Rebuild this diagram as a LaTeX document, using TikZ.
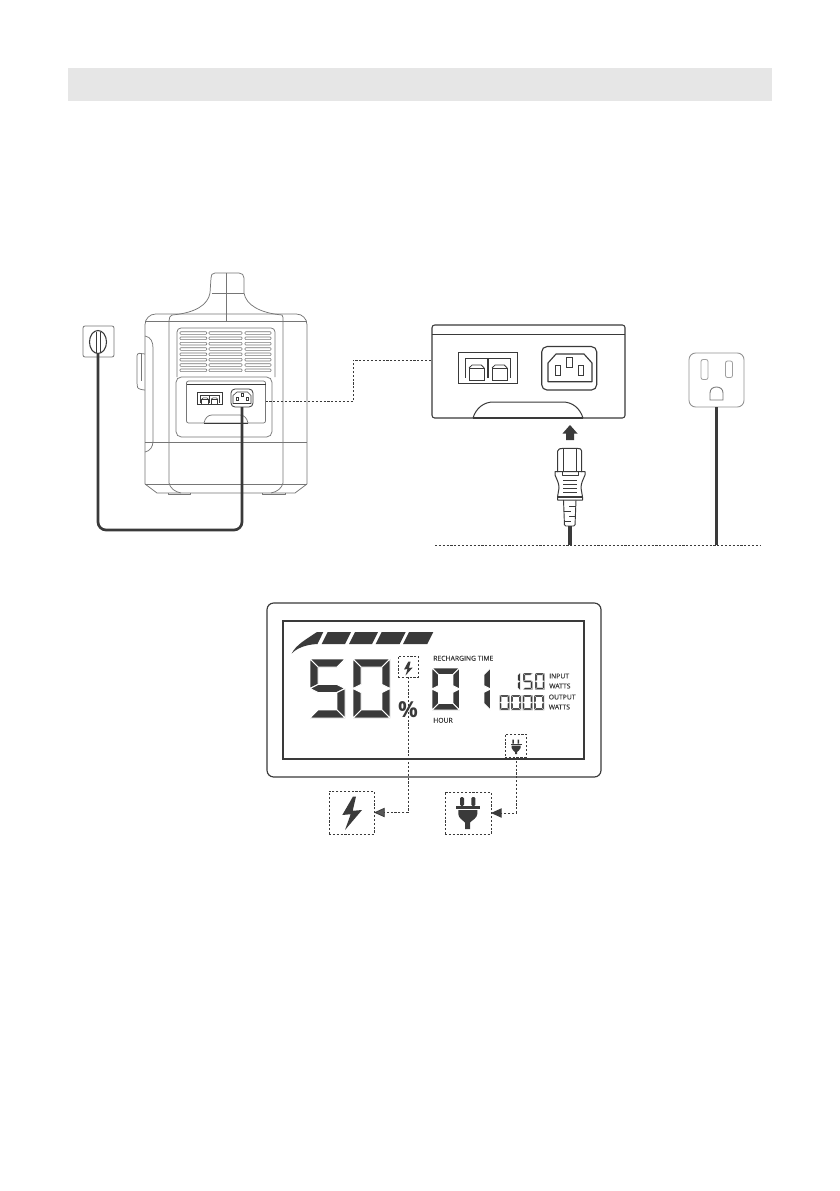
\documentclass[tikz,border=0pt]{standalone}
\usepackage{fontspec}
\setmainfont{Open Sans}
\newfontfamily\lcdfont[FakeBold=0.35]{Open Sans}
\usetikzlibrary{shapes.geometric,arrows.meta,calc}
\definecolor{ink}{HTML}{3A3A3A}
\definecolor{devline}{HTML}{767676}
\definecolor{headbar}{HTML}{E6E6E6}
\tikzset{
  px/.style 2 args={minimum width=#1*.75pt,minimum height=#2*.75pt,inner sep=0pt,outer sep=0pt},
  dev/.style={draw=devline,line width=.55pt,line join=round},
  detail/.style={draw=ink,line width=.75pt,line join=round},
  cable/.style={draw=ink,line width=2pt,rounded corners=6pt},
  dots/.style={draw=ink,line width=.6pt,dash pattern=on 1.6pt off 1.3pt},
  dotsbox/.style={draw=ink,line width=.55pt,dash pattern=on 1.6pt off 1.3pt},
  lcdtext/.style={font=\lcdfont\fontsize{5.1}{5}\selectfont,text=ink,inner sep=0pt,anchor=west},
  seg/.style={fill=ink,draw=white,line width=.7pt,line join=miter},
  thinseg/.style={fill=ink,draw=white,line width=.12pt}
}
% seven segment digit: x,y,W,H,T,list,style
\newcommand{\sevdigit}[7]{%
 \begin{scope}[shift={(#1,#2)}]
 \def\W{#3}\def\H{#4}\def\T{#5}
 \foreach \s in {#6}{%
  \ifnum\s=1 \path[#7] (0,0)--(\W,0)--({\W-\T},\T)--(\T,\T)--cycle;\fi
  \ifnum\s=2 \path[#7] (\W,0)--(\W,{\H/2})--({\W-\T},{\H/2-\T/2})--({\W-\T},\T)--cycle;\fi
  \ifnum\s=3 \path[#7] (\W,{\H/2})--(\W,\H)--({\W-\T},{\H-\T})--({\W-\T},{\H/2+\T/2})--cycle;\fi
  \ifnum\s=4 \path[#7] (0,\H)--(\W,\H)--({\W-\T},{\H-\T})--(\T,{\H-\T})--cycle;\fi
  \ifnum\s=5 \path[#7] (0,{\H/2})--(0,\H)--(\T,{\H-\T})--(\T,{\H/2+\T/2})--cycle;\fi
  \ifnum\s=6 \path[#7] (0,0)--(0,{\H/2})--(\T,{\H/2-\T/2})--(\T,\T)--cycle;\fi
  \ifnum\s=7 \path[#7] (0,{\H/2})--(\T,{\H/2-\T/2})--({\W-\T},{\H/2-\T/2})--(\W,{\H/2})--({\W-\T},{\H/2+\T/2})--(\T,{\H/2+\T/2})--cycle;\fi
 }
 \end{scope}}
% port icon: x,y,size,colour,line width
\newcommand{\dualicon}[5]{%
 \begin{scope}[shift={(#1,#2)},x=#3*.75pt,y=-#3*.75pt]
  \draw[#4,line width=#5] (0,.88)--(0,0)--(1,0)--(1,.88);
  \draw[#4,line width=#5] (.18,.44) rectangle (.85,1);
  \draw[#4,line width=#5] (.18,.44)--(.32,.31)--(.72,.31)--(.85,.44);
 \end{scope}}
\begin{document}
\begin{tikzpicture}[x=.75pt,y=-.75pt]
\useasboundingbox (0,0) rectangle (839,1191);
\fill[white] (0,0) rectangle (839,1191);
\fill[headbar] (68,68) rectangle (772,101);

%% ---- device, rear view
\draw[dev] (172,315) .. controls (195,313) and (208,305) .. (210,293) -- (211,278)
  .. controls (211,275) and (212,273) .. (215,273) -- (239,273)
  .. controls (242,273) and (244,275) .. (244,278) -- (244,293)
  .. controls (246,305) and (260,313) .. (282,315);
\draw[dev] (226,273)--(226,321);
\draw[dev] (211.5,293)--(243.5,293);
\draw[dev,rounded corners=8pt] (145,484)--(145,314)--(307,314)--(307,484);
\draw[dev] (145,484)--(157,493)--(295,493)--(307,484);
\draw[dev] (145,321)--(307,321);
\draw[dev] (145,442)--(307,442);
\draw[dev] (145,484)--(307,484);
\draw[dev] (172,315) .. controls (170,315.5) and (169,318) .. (169,321) -- (169,483)
  .. controls (170,488) and (175,492) .. (181,493);
\draw[dev] (282,315) .. controls (283,315.5) and (283,318) .. (283,321) -- (283,483)
  .. controls (282,488) and (277,492) .. (271,493);
\draw[dev] (168,493)--(168,494.5)--(190,494.5)--(190,493);
\draw[dev] (262,493)--(262,494.5)--(285,494.5)--(285,493);
\draw[dev] (145,336) .. controls (151,337) and (153,342) .. (153,348) -- (153,441)
  .. controls (153,447) and (150,451) .. (145,452);
\draw[dev,rounded corners=2pt] (145,354)--(137,353)--(137,385) .. controls (138,389) and (143,390) .. (145,390);
\draw[dev] (141,353)--(141,381);
% vents
\draw[dev,rounded corners=3pt] (177,377)--(177,328)--(275,328)--(275,377);
\foreach \yy in {331.7,337,342.4,347.7,353,358.4,363.7,369}{
  \foreach \xa/\xb in {180/206.7,209/242,245/271}{
    \draw[devline,line width=.45pt,rounded corners=.6pt] (\xa,\yy) rectangle (\xb,\yy+2.6);
  }
}
% port area
\node[px={96}{60},dev,rounded corners=4pt] (portouter) at (224,407) {};
\node[px={79}{42},dev,rounded corners=1.5pt] (portinner) at (226,402) {};
\draw[ink,line width=.6pt] (portinner.west |- 0,384) -- (portinner.east |- 0,384);
\draw[dev] (204,423) .. controls (205,418) and (208,415) .. (212,415) -- (240,415)
   .. controls (244,415) and (247,418) .. (248,423);
\draw[ink,line width=.7pt] (204,423)--(248,423);
\node[px={25}{11.5},draw=ink,line width=.65pt] (dualsmall) at (209.5,398.5) {};
\dualicon{200}{395}{9.6}{ink}{.4pt}
\dualicon{209.6}{395}{9.6}{ink}{.4pt}
\node[px={22}{18},draw=ink,line width=.6pt,rounded corners=3pt] (acport) at (242,398) {};
\draw[ink,line width=.45pt,line join=round] (237,392)--(247.5,392)--(251,395.5)--(251,403.5)--(233,403.5)--(233,395.5)--cycle;
\foreach \a/\b in {236.8/398.5,242/395,247.2/398.5}{\draw[ink,line width=.45pt] (\a-1,\b-1.7) rectangle (\a+1,\b+1.7);}

%% ---- wall socket (left)
\node[px={31}{31},draw=devline,line width=.6pt,rounded corners=1.5pt,fill=white] (wallsocket) at (98.5,341.5) {};
\node[px={17}{23},draw=ink,line width=.8pt,ellipse] (wallplug) at (98,342) {};
\draw[ink,line width=.55pt] (96.5,332)--(96.5,353) (100,332)--(100,353);
\coordinate (cablelow) at (170,530);
\draw[cable] (wallplug.south) |- (cablelow) -| (acport.south);

%% ---- dashed link to enlarged panel
\coordinate (bendA) at (353,401.5);
\coordinate (bendB) at (353,360);

%% ---- enlarged panel
\node[px={193}{93},detail,rounded corners=2pt,line width=.8pt] (panel) at (528.5,371.5) {};
\draw[dots] (portinner.east |- bendA) -- (bendA) -- (bendB) -- (panel.west |- bendB);
\draw[ink,line width=.75pt] (panel.west |- 0,334) -- (panel.east |- 0,334);
\draw[detail] (473,418) .. controls (476,408) and (484,402) .. (493,402) -- (563,402)
  .. controls (572,402) and (580,408) .. (583,418);
\draw[draw=ink,line width=1pt] (473,418)--(583,418);
\node[px={59}{31},draw=ink,line width=.7pt] (dualbig) at (487.5,367.5) {};
\dualicon{465}{358}{22.5}{ink}{.6pt}
\dualicon{488}{358}{22.5}{ink}{.6pt}
\node[px={55}{43.5},draw=ink,line width=.85pt,rounded corners=4pt] (acbig) at (569.2,368.3) {};
\draw[ink,line width=.85pt,line join=round] (556,354)--(584,354)--(592,363)--(592,381.7)--(548,381.7)--(548,363)--cycle;
\foreach \a/\b in {558.2/370.8,569.5/362.5,580.8/370.8}{\draw[ink,line width=.85pt] (\a-2.6,\b-5) rectangle (\a+2.6,\b+5);}
% arrow up
\fill[ink] (570,425)--(577.5,433.5)--(574,433.5)--(574,440)--(566,440)--(566,433.5)--(562.5,433.5)--cycle;
% power connector
\draw[detail] (557.7,472)--(557.7,451) .. controls (558,449) and (560,448.3) .. (563,448.3) -- (577,448.3) .. controls (580,448.3) and (581.5,449) .. (581.7,451) -- (581.7,472);
\draw[detail] (563.3,448.3)--(563.3,472) (576.7,448.3)--(576.7,472);
\draw[detail] (555,471.7)--(585,471.7)--(585,475) .. controls (583,480) and (581,483) .. (581,488) -- (582.5,497)--(582.5,500)--(557.5,500)--(557.5,497)--(559,488) .. controls (559,483) and (557,480) .. (555,475)--cycle;
\draw[detail] (562,471.7)--(562,475)--(578,475)--(578,471.7);
\foreach \yy in {480.7,484.3,488.3,492.3}{\draw[ink,line width=.6pt] (563.3,\yy)--(576.7,\yy);}
\draw[ink,line width=.9pt] (558,497)--(582,497);
\node[px={12}{27}] (relief) at (570,512.5) {};
\draw[ink,line width=.7pt,rounded corners=1pt] (563.5,500)--(564.5,526)--(575,526)--(576,500);
\foreach \a/\b/\yy in {569/576/506,564/571/511,569/575.5/516,564.5/571/521}{\draw[ink,line width=.55pt] (\a,\yy)--(\b,\yy);}
\coordinate (floorL) at (435,545);
\coordinate (floorR) at (760,545);
\draw[dots,line width=.55pt] (floorL)--(floorR);
\draw[draw=ink,line width=2.4pt] (relief.south) -- (relief.south |- floorL);

%% ---- outlet
\node[px={55}{54},draw=devline!80,line width=.65pt,rounded corners=5pt] (outlet) at (716.5,380) {};
\draw[devline!70,line width=.6pt,rounded corners=1.5pt] (701,359.5) rectangle (708,379.5);
\draw[devline!70,line width=.6pt,rounded corners=1.5pt] (725.5,361) rectangle (732.5,377.5);
\draw[devline,line width=.65pt] (710,400)--(710,393) .. controls (710,389) and (713,387) .. (716.5,387) .. controls (720,387) and (723,389) .. (723,393)--(723,400)--cycle;
\draw[draw=ink,line width=2.2pt] (outlet.south) -- (outlet.south |- floorL);

%% ---- LCD
\node[px={334}{174},draw=ink,line width=.85pt,rounded corners=5pt] (lcdouter) at (434,690) {};
\node[px={301}{138},draw=ink,line width=.9pt] (lcdinner) at (433.5,690) {};
% battery bar
\fill[ink] (291.7,653.5) .. controls (296,645) and (305,640) .. (317,632) -- (323.3,632) -- (317.5,644) .. controls (306,644.5) and (297,648) .. (291.7,653.5) -- cycle;
\foreach \a/\b in {327.7/351,355/378,381.7/405.7,409/433.3}{\fill[ink] (\a,632)--(\b,632)--(\b-6,644)--(\a-6,644)--cycle;}
% digits
\sevdigit{310}{659}{35}{59}{8}{1,6,7,3,4}{seg}
\sevdigit{353}{659}{37}{59}{8}{1,2,3,4,5,6}{seg}
\sevdigit{432}{668}{27.5}{42}{6.5}{1,2,3,4,5,6}{seg}
\sevdigit{484}{668}{6.5}{42}{6.5}{2,3}{seg}
\sevdigit{517.5}{673}{2.6}{17}{2.2}{2,3}{thinseg}
\sevdigit{523}{673}{9.5}{16.5}{2}{1,6,7,3,4}{thinseg}
\sevdigit{535}{673}{9.5}{16.5}{2}{1,2,3,4,5,6}{thinseg}
\foreach \xx in {499.5,511,522.5,534}{\sevdigit{\xx}{695}{10}{15}{1.9}{1,2,3,4,5,6}{thinseg}}
% texts
\node[font=\bfseries\fontsize{16.5}{17}\selectfont,text=ink,inner sep=0pt] (pct) at (408,710) {\%};
\node[lcdtext] (rt) at (433,658.3) {RECHARGING TIME};
\node[lcdtext] (hr) at (433,720.3) {HOUR};
\node[lcdtext] (i1) at (549,676) {INPUT};
\node[lcdtext] (i2) at (549,686) {WATTS};
\node[lcdtext] (o1) at (548.5,697) {OUTPUT};
\node[lcdtext] (o2) at (548.5,707) {WATTS};
% boxes
\node[px={20}{21},dotsbox] (boltsmall) at (408,666.5) {};
\node[px={45}{43},dotsbox] (boltbig) at (351.5,812.5) {};
\node[px={21}{23},dotsbox] (plugsmall) at (515.5,745.5) {};
\node[px={46}{42},dotsbox] (plugbig) at (468,813) {};
\fill[ink] (408.3,661.7)--(404,669.5)--(407.5,669)--(405.5,675.5)--(412.7,667.5)--(409,668)--(410.5,661.7)--cycle;
\fill[ink] (353,796.5)--(342.3,815)--(350.7,814.2)--(345,830)--(362,810)--(352.7,810.8)--(356,796.5)--cycle;
% small plug
\fill[ink] (512.4,739.5) rectangle (513.9,743.5) (517.5,739.5) rectangle (519,743.5);
\fill[ink] (510.7,743.5) rectangle (521.5,745);
\fill[ink] (511.7,745.7)--(520.5,745.7)--(520.5,748) .. controls (520,750) and (518,751) .. (517,752)--(517,754)--(515,754)--(515,752) .. controls (514,751) and (512,750) .. (511.7,748)--cycle;
% large plug
\fill[ink,rounded corners=1pt] (460,797) rectangle (464,806) (471.4,797) rectangle (475.4,806);
\fill[ink] (455.7,805.5) rectangle (480,808.7);
\fill[ink] (458.3,810) -- (477.3,810) -- (477.3,814) .. controls (477,818) and (472.5,820) .. (470,822.5) -- (470,829) -- (465,829) -- (465,822.5) .. controls (462.5,820) and (458.5,818) .. (458.3,814) -- cycle;
% connectors
\coordinate (boltturn) at (408,812.5);
\coordinate (plugturn) at (516,813);
\draw[dots,-{Triangle[length=8pt,width=7pt,fill=ink!85]}] (boltsmall.south) -- (boltturn) -- (boltbig.east);
\draw[dots,line width=.75pt,-{Triangle[length=8pt,width=7pt,fill=ink]}] (plugsmall.south -| plugturn) -- (plugturn) -- (plugbig.east);
\end{tikzpicture}
\end{document}
